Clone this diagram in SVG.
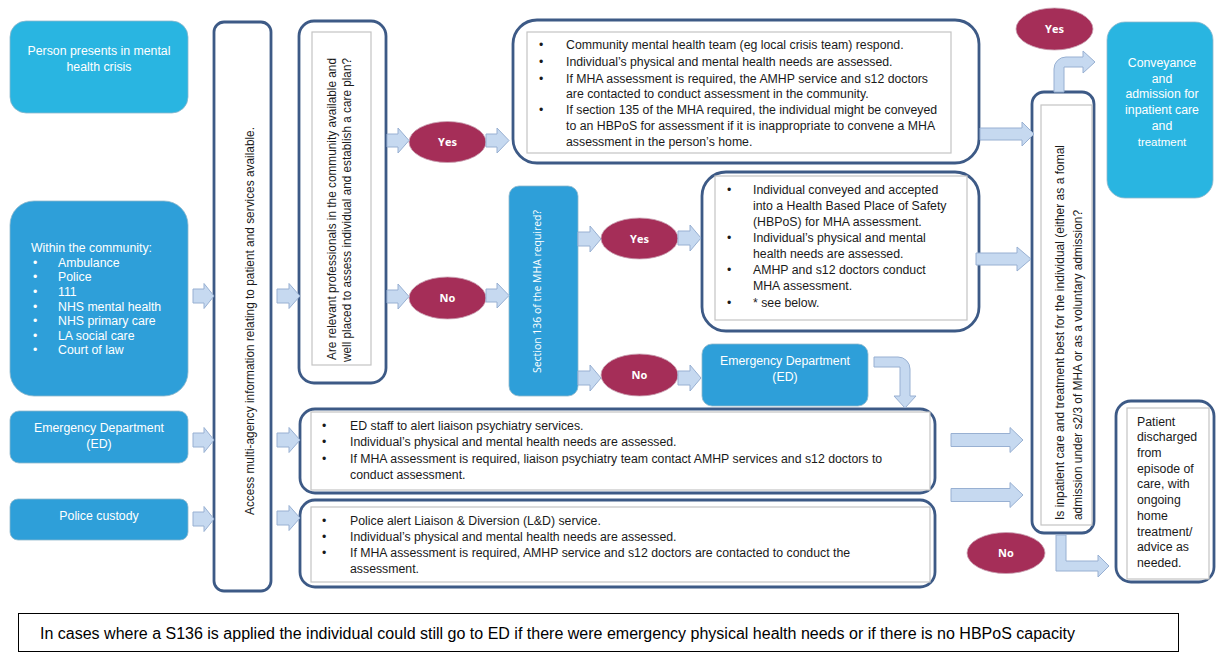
<svg xmlns="http://www.w3.org/2000/svg" width="1216" height="652" viewBox="0 0 1216 652">
  <style>
    .t { font-family: "Liberation Sans", Arial, sans-serif; font-size: 12.3px; fill: #1a1a1a; }
    .w { font-family: "Liberation Sans", Arial, sans-serif; font-size: 12.3px; fill: #ffffff; }
    .c { text-anchor: middle; }
    .cyan { fill: #29b5e1; stroke: #8fb7cc; stroke-width: 0.8; }
    .blue { fill: #2e9fd9; stroke: #8fb7cc; stroke-width: 0.8; }
    .frame { fill: #ffffff; stroke: #3d5a86; stroke-width: 2.8; }
    .inner { fill: #ffffff; stroke: #c4c4c4; stroke-width: 1.2; }
    .oval { fill: #a52e58; stroke: #c9a2b2; stroke-width: 0.8; }
    .ot { font-family: "Open Sans", "Liberation Sans", sans-serif; font-size: 11px; font-weight: bold; fill: #ffffff; text-anchor: middle; }
    .arr { fill: #c6d9f0; stroke: #98b0d2; stroke-width: 1; }
  </style>

  <!-- start / entry points -->
  <g id="person-crisis">
    <rect class="cyan" x="10" y="21" width="178" height="92" rx="16"/>
    <text class="w c" x="99" y="55">Person presents in mental</text>
    <text class="w c" x="99" y="71">health crisis</text>
  </g>

  <g id="community">
    <rect class="blue" x="10" y="201" width="178" height="195" rx="24"/>
    <text class="w" x="31" y="252">Within the community:</text>
    <g class="w">
      <text x="33" y="267">•</text><text x="58" y="267">Ambulance</text>
      <text x="33" y="281">•</text><text x="58" y="281">Police</text>
      <text x="33" y="296">•</text><text x="58" y="296">111</text>
      <text x="33" y="311">•</text><text x="58" y="311">NHS mental health</text>
      <text x="33" y="325">•</text><text x="58" y="325">NHS primary care</text>
      <text x="33" y="340">•</text><text x="58" y="340">LA social care</text>
      <text x="33" y="354">•</text><text x="58" y="354">Court of law</text>
    </g>
  </g>

  <g id="ed-entry">
    <rect class="blue" x="10" y="411" width="178" height="52" rx="9"/>
    <text class="w c" x="99" y="432">Emergency Department</text>
    <text class="w c" x="99" y="448">(ED)</text>
  </g>

  <g id="police-custody">
    <rect class="blue" x="10" y="499" width="178" height="41" rx="8"/>
    <text class="w c" x="99" y="520">Police custody</text>
  </g>

  <!-- shared information step -->
  <g id="access-info">
    <rect class="frame" x="214" y="22" width="57" height="569" rx="10"/>
    <text class="t" transform="translate(254,515) rotate(-90)" textLength="388" lengthAdjust="spacingAndGlyphs">Access multi-agency information relating to patient and services available.</text>
  </g>

  <g id="community-question">
    <rect class="frame" x="299" y="21" width="87" height="362" rx="15"/>
    <rect class="inner" x="312" y="32" width="59" height="333"/>
    <text class="t" transform="translate(336,360) rotate(-90)" textLength="302" lengthAdjust="spacingAndGlyphs">Are relevant professionals in the community available and</text>
    <text class="t" transform="translate(351,362) rotate(-90)" textLength="304" lengthAdjust="spacingAndGlyphs">well placed to assess individual and establish a care plan?</text>
  </g>

  <g id="yes-community">
    <ellipse class="oval" cx="447.5" cy="142" rx="38.5" ry="20.5"/>
    <text class="ot" x="447.5" y="146">Yes</text>
  </g>

  <g id="no-community">
    <ellipse class="oval" cx="447.5" cy="298" rx="38.5" ry="21"/>
    <text class="ot" x="447.5" y="302">No</text>
  </g>

  <g id="community-response">
    <rect class="frame" x="513" y="20" width="466" height="143" rx="24"/>
    <rect class="inner" x="527" y="32" width="424" height="121"/>
    <g class="t">
      <text x="539" y="49">•</text><text x="566" y="49">Community mental health team (eg local crisis team) respond.</text>
      <text x="539" y="66">•</text><text x="566" y="66">Individual’s physical and mental health needs are assessed.</text>
      <text x="539" y="83">•</text><text x="566" y="83">If MHA assessment is required, the AMHP service and s12 doctors</text>
      <text x="566" y="98">are contacted to conduct assessment in the community.</text>
      <text x="539" y="114">•</text><text x="566" y="114">If section 135 of the MHA required, the individual might be conveyed</text>
      <text x="566" y="130">to an HBPoS for assessment if it is inappropriate to convene a MHA</text>
      <text x="566" y="146">assessment in the person’s home.</text>
    </g>
  </g>

  <g id="s136-question">
    <rect class="blue" x="509" y="186" width="69" height="210" rx="10"/>
    <text class="w" style="font-family:'Open Sans','Liberation Sans',sans-serif;font-size:11.5px" transform="translate(541,373) rotate(-90)" textLength="163" lengthAdjust="spacingAndGlyphs">Section 136 of the MHA required?</text>
  </g>

  <g id="yes-s136">
    <ellipse class="oval" cx="639.5" cy="238.5" rx="38.5" ry="20.5"/>
    <text class="ot" x="639.5" y="242.5">Yes</text>
  </g>

  <g id="no-s136">
    <ellipse class="oval" cx="639.5" cy="375" rx="38.5" ry="21"/>
    <text class="ot" x="639.5" y="379">No</text>
  </g>

  <g id="hbpos">
    <rect class="frame" x="702" y="172" width="277" height="159" rx="24"/>
    <rect class="inner" x="715" y="176" width="252" height="144"/>
    <g class="t">
      <text x="727" y="194">•</text><text x="753" y="194">Individual conveyed and accepted</text>
      <text x="753" y="210">into a Health Based Place of Safety</text>
      <text x="753" y="226">(HBPoS) for MHA assessment.</text>
      <text x="727" y="242">•</text><text x="753" y="242">Individual’s physical and mental</text>
      <text x="753" y="258">health needs are assessed.</text>
      <text x="727" y="274">•</text><text x="753" y="274">AMHP and s12 doctors conduct</text>
      <text x="753" y="290">MHA assessment.</text>
      <text x="727" y="307">•</text><text x="753" y="307">* see below.</text>
    </g>
  </g>

  <g id="ed-s136">
    <rect class="blue" x="702" y="344" width="166" height="62" rx="10"/>
    <text class="w c" x="785" y="365">Emergency Department</text>
    <text class="w c" x="785" y="381">(ED)</text>
  </g>

  <g id="ed-liaison">
    <rect class="frame" x="300" y="409" width="635" height="84" rx="15"/>
    <rect class="inner" x="311" y="412" width="619" height="78"/>
    <g class="t">
      <text x="322" y="430">•</text><text x="350" y="430">ED staff to alert liaison psychiatry services.</text>
      <text x="322" y="446">•</text><text x="350" y="446">Individual’s physical and mental health needs are assessed.</text>
      <text x="322" y="463">•</text><text x="350" y="463">If MHA assessment is required, liaison psychiatry team contact AMHP services and s12 doctors to</text>
      <text x="350" y="479">conduct assessment.</text>
    </g>
  </g>

  <g id="police-liaison">
    <rect class="frame" x="300" y="500" width="635" height="87" rx="15"/>
    <rect class="inner" x="311" y="507" width="619" height="75"/>
    <g class="t">
      <text x="322" y="525">•</text><text x="350" y="525">Police alert Liaison &amp; Diversion (L&amp;D) service.</text>
      <text x="322" y="541">•</text><text x="350" y="541">Individual’s physical and mental health needs are assessed.</text>
      <text x="322" y="557">•</text><text x="350" y="557">If MHA assessment is required, AMHP service and s12 doctors are contacted to conduct the</text>
      <text x="350" y="573">assessment.</text>
    </g>
  </g>

  <g id="inpatient-question">
    <rect class="frame" x="1032" y="92" width="62" height="441" rx="12"/>
    <rect class="inner" x="1041" y="105" width="51" height="420"/>
    <text class="t" transform="translate(1064,520) rotate(-90)" textLength="375" lengthAdjust="spacingAndGlyphs">Is inpatient care and treatment best for the individual (either as a fomal</text>
    <text class="t" transform="translate(1082,520) rotate(-90)" textLength="310" lengthAdjust="spacingAndGlyphs">admission under s2/3 of MHA or as a voluntary admission?</text>
  </g>

  <g id="yes-inpatient">
    <ellipse class="oval" cx="1054.5" cy="29" rx="38.5" ry="21"/>
    <text class="ot" x="1054.5" y="33">Yes</text>
  </g>

  <g id="no-inpatient">
    <ellipse class="oval" cx="1006" cy="553" rx="39" ry="20.5"/>
    <text class="ot" x="1006" y="557">No</text>
  </g>

  <g id="admission">
    <rect class="cyan" x="1107" y="22" width="106" height="176" rx="18"/>
    <g class="w c">
      <text x="1162" y="67">Conveyance</text>
      <text x="1162" y="83">and</text>
      <text x="1162" y="98">admission for</text>
      <text x="1162" y="114">inpatient care</text>
      <text x="1162" y="130">and</text>
      <text x="1162" y="146" style="font-size:11.5px">treatment</text>
    </g>
  </g>

  <g id="discharge">
    <rect class="frame" x="1116" y="401" width="98" height="181" rx="15"/>
    <rect class="inner" x="1127" y="408" width="82" height="171"/>
    <g class="t">
      <text x="1137" y="426">Patient</text>
      <text x="1137" y="441">discharged</text>
      <text x="1137" y="457">from</text>
      <text x="1137" y="473">episode of</text>
      <text x="1137" y="488">care, with</text>
      <text x="1137" y="504">ongoing</text>
      <text x="1137" y="520">home</text>
      <text x="1137" y="536">treatment/</text>
      <text x="1137" y="551">advice as</text>
      <text x="1137" y="567">needed.</text>
    </g>
  </g>

  <!-- connectors: block arrows -->
  <g id="connectors" class="arr">
    <path d="M193,289 H204 V283.5 L214,296 L204,308.5 V303 H193 Z"/>
    <path d="M193,433 H204 V427.5 L214,440 L204,452.5 V447 H193 Z"/>
    <path d="M193,512 H204 V506.5 L214,519 L204,531.5 V526 H193 Z"/>
    <path d="M277,289 H289 V283.5 L300,296 L289,308.5 V303 H277 Z"/>
    <path d="M277,433 H289 V427.5 L300,440 L289,452.5 V447 H277 Z"/>
    <path d="M277,511 H289 V505.5 L300,518 L289,530.5 V525 H277 Z"/>
    <path d="M387,134 H398 V128 L409,140.5 L398,153 V147 H387 Z"/>
    <path d="M486,134 H497 V128 L509,140.5 L497,153 V147 H486 Z"/>
    <path d="M387,290 H398 V284 L409,296.5 L398,309 V303 H387 Z"/>
    <path d="M486,289 H497 V283 L509,295.5 L497,308 V302 H486 Z"/>
    <path d="M578,232 H590 V226 L601,239 L590,252 V246 H578 Z"/>
    <path d="M678,231 H690 V225 L701,238 L690,251 V245 H678 Z"/>
    <path d="M578,371 H590 V365 L601,378 L590,391 V385 H578 Z"/>
    <path d="M678,371 H690 V365 L701,378 L690,391 V385 H678 Z"/>
    <path d="M980,128 H1022 V122 L1034,134 L1022,146 V140 H980 Z"/>
    <path d="M976,253 H1017 V247 L1031,259 L1017,271 V265 H976 Z"/>
    <path d="M951,433.5 H1010 V427.5 L1023,440 L1010,452.5 V446.5 H951 Z"/>
    <path d="M951,488.5 H1010 V482.5 L1023,495 L1010,507.5 V501.5 H951 Z"/>
    <path d="M874,357 H898 A12,12 0 0 1 910,369 V396 H916 L905,408 L894,396 H900 V367 H874 Z"/>
    <path d="M1054,92 V69 A12,12 0 0 1 1066,57 H1083 V51 L1095,62 L1083,73 V67 H1064 V92 Z"/>
    <path d="M1056,535 V571 H1098 V577 L1109,566 L1098,555 V561 H1066 V535 Z"/>
  </g>

  <!-- footnote -->
  <g id="footnote">
    <rect x="18.5" y="613.5" width="1160" height="38" fill="#ffffff" stroke="#000000" stroke-width="1"/>
    <text class="t" x="40" y="639" style="font-size:16px;fill:#000" textLength="1035" lengthAdjust="spacingAndGlyphs">In cases where a S136 is applied the individual could still go to ED if there were emergency physical health needs or if there is no HBPoS capacity</text>
  </g>
</svg>
